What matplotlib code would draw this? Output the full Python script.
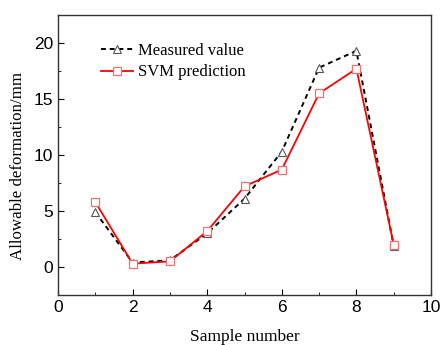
import matplotlib
matplotlib.use("Agg")
import matplotlib.pyplot as plt
from matplotlib.ticker import MultipleLocator

samples = [1, 2, 3, 4, 5, 6, 7, 8, 9]
measured = [4.9, 0.4, 0.6, 3.0, 6.1, 10.3, 17.8, 19.3, 1.9]
svm_pred = [5.8, 0.3, 0.5, 3.2, 7.2, 8.7, 15.5, 17.7, 2.0]

fig = plt.figure(figsize=(4.42, 3.45), dpi=100)
ax = fig.add_axes([58 / 442, 1 - 295 / 345, 373 / 442, 280 / 345])

ax.plot(samples, measured, color="black", linestyle=(0, (2.5, 2)), lw=1.4,
        marker="^", markersize=6, markerfacecolor="white",
        markeredgecolor="#555555", markeredgewidth=0.8, label="Measured value")
ax.plot(samples, svm_pred, color="red", lw=1.3,
        marker="s", markersize=5.5, markerfacecolor="white",
        markeredgecolor="#f07070", markeredgewidth=0.9, label="SVM prediction")

ax.set_xlim(0, 10)
ax.set_ylim(-2.5, 22.5)
ax.xaxis.set_major_locator(MultipleLocator(2))
ax.xaxis.set_minor_locator(MultipleLocator(1))
ax.yaxis.set_major_locator(MultipleLocator(5))
ax.yaxis.set_minor_locator(MultipleLocator(2.5))
ax.tick_params(which="both", direction="in", top=False, right=False,
               labelsize=12.5, labelfontfamily="Liberation Sans")
ax.tick_params(which="major", length=4)
ax.tick_params(which="minor", length=2.5)
for s in ax.spines.values():
    s.set_linewidth(1.0)
    s.set_color("#333333")

ax.set_xlabel("Sample number", family="Liberation Serif", fontsize=12.5, labelpad=10)
ax.set_ylabel("Allowable deformation/mm", family="Liberation Serif", fontsize=12.2)
ax.yaxis.set_label_coords(-0.085, 0.46)

leg = ax.legend(loc="upper left", bbox_to_anchor=(0.075, 0.955), frameon=False,
                prop={"family": "Liberation Serif", "size": 12},
                handlelength=1.9, handletextpad=0.3, labelspacing=0.35)

fig.savefig("out.png", dpi=100)
